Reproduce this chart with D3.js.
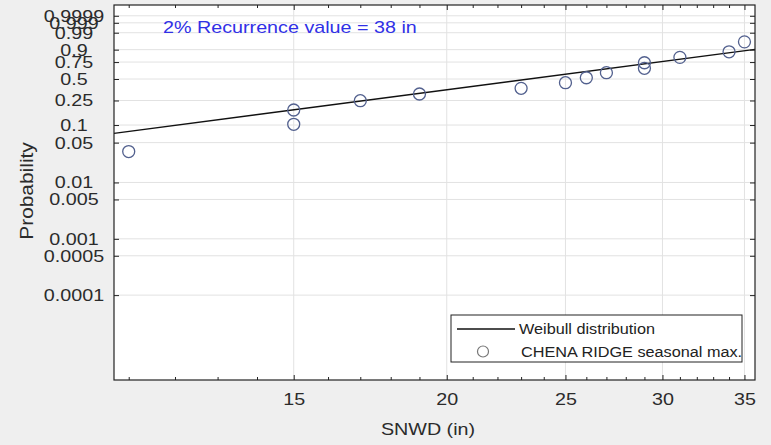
<!DOCTYPE html>
<html>
<head>
<meta charset="utf-8">
<script src="https://cdn.jsdelivr.net/npm/d3@7"></script>
<style>
  body { margin: 0; background: #efefef; }
  svg { display: block; }
  text { font-family: "Liberation Sans", Arial, sans-serif; }
</style>
</head>
<body>
<svg id="chart" width="771" height="445"></svg>
<script>
// seasonal max snow depth (in), sorted, and the plotting position of each one
const depths = [11, 15, 15, 17, 19, 23, 25, 26, 27, 29, 29, 31, 34, 35];
const probs = [0.035, 0.103, 0.177, 0.248, 0.313, 0.377, 0.449, 0.518, 0.592, 0.658, 0.74, 0.814, 0.879, 0.958];

// fitted Weibull line, read at the two plot edges (straight on these axes)
const fitX = [10.7, 35.7];
const fitP = [0.0723, 0.903];

const xTicks = [15, 20, 25, 30, 35];
const xMinor = [11, 12, 13, 14, 16, 17, 18, 19, 21, 22, 23, 24, 26, 27, 28, 29, 31, 32, 33, 34];
const probTicks = [0.0001, 0.0005, 0.001, 0.005, 0.01, 0.05, 0.1, 0.25, 0.5, 0.75, 0.9, 0.99, 0.999, 0.9999];
const probLabels = ["0.0001", "0.0005", "0.001", "0.005", "0.01", "0.05", "0.1", "0.25", "0.5", "0.75", "0.9", "0.99", "0.999", "0.9999"];

const margin = {left: 114, right: 16, top: 5, bottom: 65};
const W = 771, H = 445;
const pw = W - margin.left - margin.right, ph = H - margin.top - margin.bottom;

// Weibull probability paper: ln(-ln(1-p))
const weib = p => Math.log(-Math.log(1 - p));

const x = d3.scaleLog().domain([10.7, 35.7]).range([0, pw]);
const y = d3.scaleLinear().domain([weib(3.1e-6), weib(0.9999994)]).range([ph, 0]);

const svg = d3.select("#chart");
const g = svg.append("g").attr("transform", `translate(${margin.left},${margin.top})`);

g.append("rect").attr("width", pw).attr("height", ph).attr("fill", "#fff");

// grid
g.append("g").selectAll("line").data(probTicks).join("line")
    .attr("x1", 0).attr("x2", pw)
    .attr("y1", d => y(weib(d))).attr("y2", d => y(weib(d)))
    .attr("stroke", "#e2e2e2");
g.append("g").selectAll("line").data(xTicks).join("line")
    .attr("x1", d => x(d)).attr("x2", d => x(d))
    .attr("y1", 0).attr("y2", ph)
    .attr("stroke", "#e2e2e2");

// fitted line
const line = d3.line().x((d, i) => x(fitX[i])).y(d => y(weib(d)));
g.append("path").datum(fitP).attr("d", line)
    .attr("fill", "none").attr("stroke", "#111").attr("stroke-width", 1.4);

// observations
g.append("g").selectAll("circle").data(depths).join("circle")
    .attr("cx", d => x(d)).attr("cy", (d, i) => y(weib(probs[i])))
    .attr("r", 6).attr("fill", "none")
    .attr("stroke", "#52608e").attr("stroke-width", 1.3);

// axes, ticks pointing inward on all four sides
const axisStyle = a => {
  a.select(".domain").remove();
  a.selectAll("line").attr("stroke", "#222");
  a.selectAll("text").attr("fill", "#2b2b2b").style("font-size", "17px");
};

g.append("g").attr("transform", `translate(0,${ph})`)
    .call(d3.axisBottom(x).tickValues(xTicks).tickFormat(d3.format("d")).tickSize(-5).tickPadding(13))
    .call(axisStyle);
g.append("g").attr("transform", `translate(0,${ph})`)
    .call(d3.axisBottom(x).tickValues(xMinor).tickFormat("").tickSize(-3))
    .call(axisStyle);
g.append("g")
    .call(d3.axisTop(x).tickValues(xTicks).tickFormat("").tickSize(-5))
    .call(axisStyle);
g.append("g")
    .call(d3.axisTop(x).tickValues(xMinor).tickFormat("").tickSize(-3))
    .call(axisStyle);

g.append("g")
    .call(d3.axisLeft(y).tickValues(probTicks.map(weib)).tickFormat((d, i) => probLabels[i]).tickSize(-5))
    .call(axisStyle)
    .call(a => a.selectAll("text").attr("text-anchor", "middle").attr("x", -40));
g.append("g").attr("transform", `translate(${pw},0)`)
    .call(d3.axisRight(y).tickValues(probTicks.map(weib)).tickFormat("").tickSize(-5))
    .call(axisStyle);

g.append("rect").attr("width", pw).attr("height", ph)
    .attr("fill", "none").attr("stroke", "#222").attr("stroke-width", 1.2);

// annotation
g.append("text").attr("x", 49).attr("y", 28)
    .attr("fill", "#3030e6").style("font-size", "17px")
    .text("2% Recurrence value = 38 in");

// legend
const lg = g.append("g").attr("transform", `translate(${451 - margin.left},${315 - margin.top})`);
lg.append("rect").attr("width", 291).attr("height", 47)
    .attr("fill", "#fff").attr("stroke", "#222");
lg.append("line").attr("x1", 6).attr("x2", 64).attr("y1", 14).attr("y2", 14)
    .attr("stroke", "#111").attr("stroke-width", 1.4);
lg.append("text").attr("x", 68).attr("y", 19).style("font-size", "14px").attr("fill", "#222")
    .text("Weibull distribution");
lg.append("circle").attr("cx", 32).attr("cy", 36.5).attr("r", 5.5)
    .attr("fill", "none").attr("stroke", "#777").attr("stroke-width", 1.2);
lg.append("text").attr("x", 70).attr("y", 41.5).style("font-size", "14px").attr("fill", "#222")
    .text("CHENA RIDGE seasonal max.");

// axis titles
svg.append("text").attr("x", 428).attr("y", 435)
    .attr("text-anchor", "middle").attr("fill", "#2b2b2b").style("font-size", "17px")
    .text("SNWD (in)");
svg.append("text").attr("transform", `translate(33,191) rotate(-90)`)
    .attr("text-anchor", "middle").attr("fill", "#2b2b2b").style("font-size", "18px")
    .text("Probability");

// the source picture is a little wider than the font: stretch every label the same way
svg.selectAll("text").each(function() {
  const w = this.getComputedTextLength();
  if (w > 0) d3.select(this).attr("textLength", w * 1.16).attr("lengthAdjust", "spacingAndGlyphs");
});
</script>
</body>
</html>
